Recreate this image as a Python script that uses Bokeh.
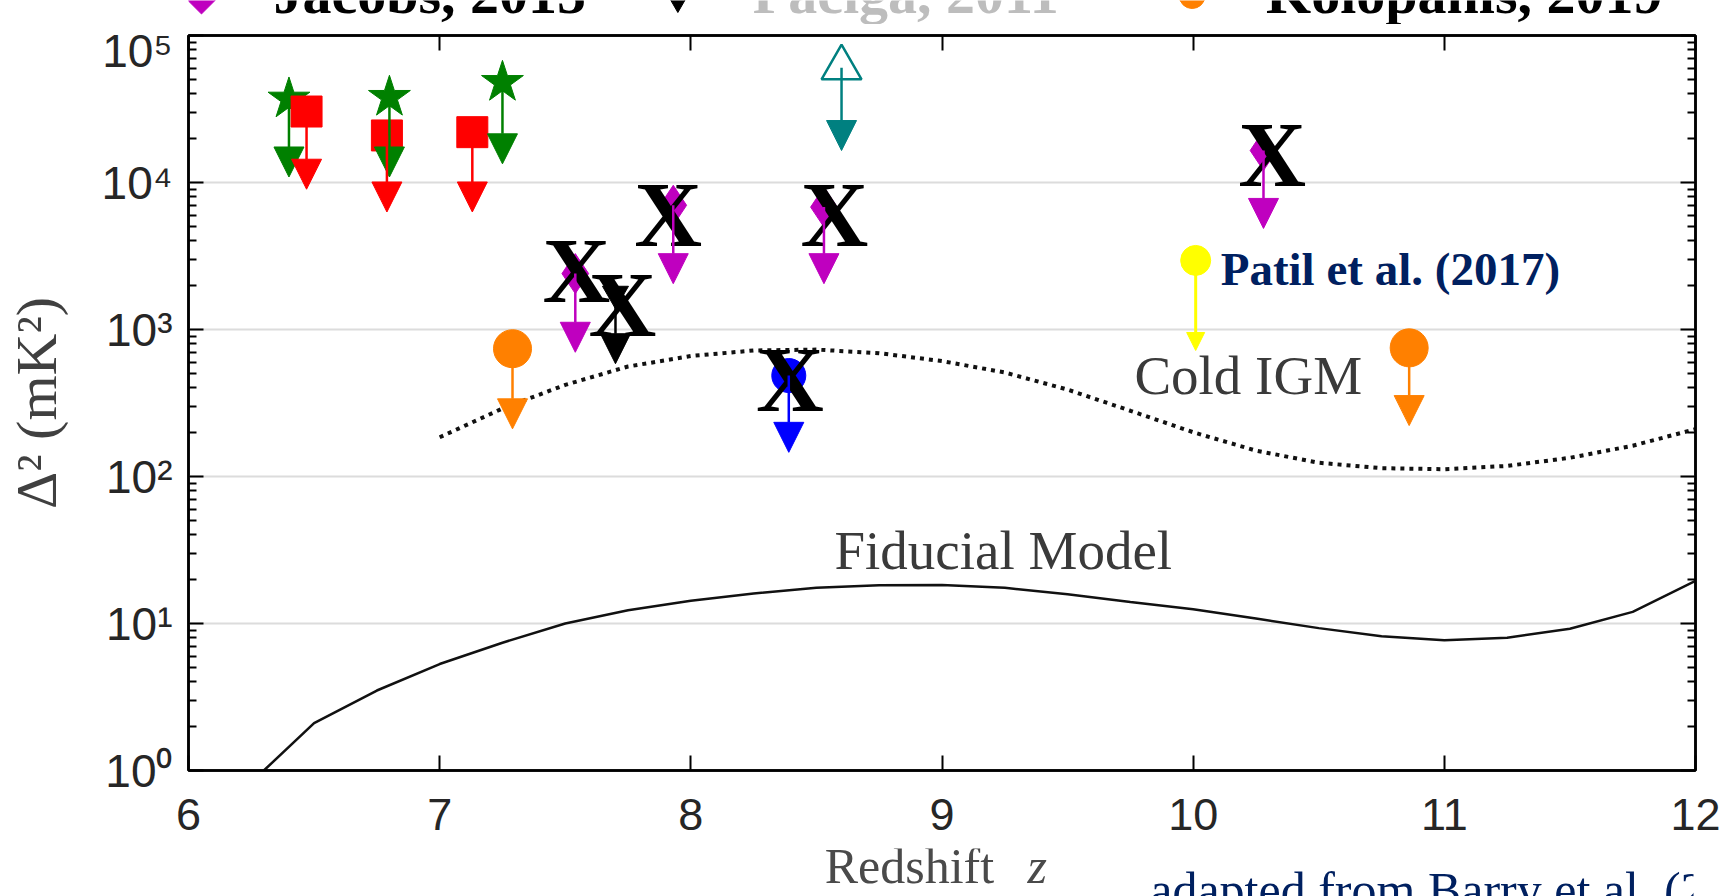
import math
from bokeh.plotting import figure
from bokeh.layouts import column
from bokeh.models import (ColumnDataSource, Arrow, NormalHead, Label, FixedTicker,
                          LogAxis, LinearAxis, CustomJSTickFormatter, Range1d)
from bokeh.core.properties import value
from bokeh.embed import file_html
from bokeh.resources import INLINE

# ---------------- data ----------------
x_ticks = [6, 7, 8, 9, 10, 11, 12]
y_ticks = [1, 10, 100, 1000, 10000, 100000]
y_tick_labels = ["10⁰", "10¹", "10²", "10³", "10⁴", "10⁵"]

fid_z = [6.3, 6.5, 6.75, 7.0, 7.25, 7.5, 7.75, 8.0, 8.25, 8.5, 8.75, 9.0, 9.25,
         9.5, 9.75, 10.0, 10.25, 10.5, 10.75, 11.0, 11.25, 11.5, 11.75, 12.0]
fid_val = [1.0, 2.1, 3.5, 5.3, 7.4, 10.0, 12.3, 14.3, 16.0, 17.5, 18.2, 18.3, 17.5,
           15.8, 14.0, 12.5, 10.8, 9.3, 8.2, 7.7, 8.0, 9.2, 12.0, 19.5]

cold_z = [7.0, 7.25, 7.5, 7.75, 8.0, 8.25, 8.5, 8.75, 9.0, 9.25, 9.5, 9.75, 10.0,
          10.25, 10.5, 10.75, 11.0, 11.25, 11.5, 11.75, 12.0]
cold_val = [185, 290, 420, 560, 660, 720, 730, 690, 610, 510, 390, 280, 200,
            150, 124, 114, 112, 118, 134, 162, 210]

star_z = [6.40, 6.80, 7.25]
star_val = [37000, 38000, 48000]
star_tip = [10900, 10900, 13400]

sq_z = [6.47, 6.79, 7.13]
sq_val = [30400, 20900, 22000]
sq_tip = [9000, 6300, 6300]

jac_z = [7.54, 7.93, 8.53, 10.28]
jac_val = [2400, 7000, 6800, 16500]
jac_tip = [700, 2050, 2050, 4870]

pac_z = [7.70]
pac_val = [1750]
pac_tip = [585]

tri_z = [8.60]
tri_val = [60300]
tri_tip = [16500]

kol_z = [7.29, 10.86]
kol_val = [740, 750]
kol_tip = [211, 222]

blue_z = [8.39]
blue_val = [486]
blue_tip = [146]

patil_z = [10.01]
patil_val = [2950]
patil_tip = [720]

cross_z = [7.545, 7.728, 7.91, 8.572, 8.395, 10.315]
cross_val = [2520, 1500, 6080, 6120, 462, 15700]

legend_labels = ["Jacobs, 2015", "Paciga, 2011", "Kolopanis, 2019"]

GREEN, RED, MAG, TEAL = "#008000", "#ff0000", "#bf00bf", "#008080"
ORANGE, BLUE, YEL = "#ff8000", "#0000ff", "#ffff00"


def strip_fig(h):
    # frames of the strips are aligned with the main frame (page x 186..1693)
    f = figure(width=1732, height=h, x_range=Range1d(186, 1693), y_range=Range1d(h, 0),
               min_border=0, toolbar_location=None, output_backend="svg",
               x_axis_location=None, y_axis_location=None, margin=(0, 0, 0, 0))
    f.outline_line_color = None
    f.xgrid.grid_line_color = None
    f.ygrid.grid_line_color = None
    f.background_fill_color = "white"
    f.border_fill_color = "white"
    return f


# ---------------- legend strip (cut off by the page top) ----------------
top_fig = strip_fig(24)
leg_mark_x = [199, 676, 1191]
leg_mark_y = [-12, -3, -5]
leg_text_x = [271, 751, 1265]
leg_text_colors = ["black", "#bdbdbd", "black"]
top_fig.scatter([leg_mark_x[0]], [leg_mark_y[0]], marker="square", angle=math.pi / 4, size=36,
                fill_color=MAG, line_color=MAG)
top_fig.scatter([leg_mark_x[1]], [leg_mark_y[1]], marker="inverted_triangle", size=26,
                fill_color="black", line_color="black")
top_fig.scatter([leg_mark_x[2]], [leg_mark_y[2]], marker="circle", size=26,
                fill_color=ORANGE, line_color=ORANGE)
top_fig.text(leg_text_x, [-7, -7, -7], text=legend_labels, text_color=leg_text_colors,
             text_font=value("Liberation Serif"), text_font_style="bold",
             text_font_size="58px", text_baseline="middle", text_align="left")

# ---------------- main figure ----------------
p = figure(frame_width=1507, frame_height=735, y_axis_type="log",
           x_range=Range1d(6, 12), y_range=Range1d(1, 1e5),
           output_backend="svg", toolbar_location=None,
           min_border_left=186, min_border_right=39,
           min_border_top=11, min_border_bottom=78, margin=(0, 0, 0, 0))
p.background_fill_color = "white"
p.border_fill_color = "white"
p.outline_line_color = "black"
p.outline_line_width = 2.5

empty = CustomJSTickFormatter(code="return ''")
xt = FixedTicker(ticks=x_ticks)
yt = FixedTicker(ticks=y_ticks,
                 minor_ticks=[m * t for t in y_ticks[:-1] for m in range(2, 10)])

xa = p.xaxis[0]
xa.ticker = xt
xa.major_label_text_font = "Liberation Sans"
xa.major_label_text_font_size = "45px"
xa.major_label_text_color = "#262626"
xa.major_label_standoff = 28
xa.major_tick_in = 15
xa.major_tick_out = 0
xa.minor_tick_line_color = None
xa.axis_line_width = 2.5
xa.major_tick_line_width = 2

ya = p.yaxis[0]
ya.ticker = yt
ya.major_label_overrides = dict(zip(y_ticks, y_tick_labels))
ya.major_label_text_font = "Liberation Sans"
ya.major_label_text_font_size = "46px"
ya.major_label_text_color = "#262626"
ya.major_label_standoff = 16
ya.major_tick_in = 15
ya.major_tick_out = 0
ya.minor_tick_in = 8
ya.minor_tick_out = 0
ya.axis_line_width = 2.5
ya.major_tick_line_width = 2
ya.minor_tick_line_width = 2
ya.axis_label = "Δ² (mK²)"
ya.axis_label_text_font = "Liberation Serif"
ya.axis_label_text_font_style = "normal"
ya.axis_label_text_font_size = "58px"
ya.axis_label_text_color = "#404040"
ya.axis_label_standoff = 30

top = LinearAxis(ticker=xt, formatter=empty, major_tick_in=15, major_tick_out=0,
                 major_label_text_font_size="1px", major_label_standoff=0,
                 minor_tick_line_color=None, axis_line_width=2.5, major_tick_line_width=2)
p.add_layout(top, "above")
right = LogAxis(ticker=yt, formatter=empty, major_tick_in=15, major_tick_out=0,
                major_label_text_font_size="1px", major_label_standoff=0,
                minor_tick_in=8, minor_tick_out=0, axis_line_width=2.5,
                major_tick_line_width=2, minor_tick_line_width=2)
p.add_layout(right, "right")

p.xgrid.grid_line_color = None
p.ygrid.ticker = yt
p.ygrid.grid_line_color = "#dcdcdc"
p.ygrid.grid_line_width = 2

# curves
p.line(fid_z, fid_val, line_color="#111111", line_width=2.5)
p.line(cold_z, cold_val, line_color="#111111", line_width=4, line_dash="4 5")


def arrows(z, v, tip, color, head=30, width=2.5):
    src = ColumnDataSource(dict(x0=z, y0=v, x1=z, y1=tip))
    p.add_layout(Arrow(end=NormalHead(size=head, fill_color=color, line_color=color, line_width=1),
                       source=src, x_start="x0", y_start="y0", x_end="x1", y_end="y1",
                       line_color=color, line_width=width, level="glyph"))


arrows(star_z, star_val, star_tip, GREEN)
arrows(sq_z, sq_val, sq_tip, RED)
arrows(jac_z, jac_val, jac_tip, MAG)
arrows(pac_z, pac_val, pac_tip, "black")
arrows(tri_z, tri_val, tri_tip, TEAL)
arrows(kol_z, kol_val, kol_tip, ORANGE)
arrows(blue_z, blue_val, blue_tip, BLUE)
arrows(patil_z, patil_val, patil_tip, YEL, head=18, width=3)

p.scatter(star_z, star_val, marker="star", size=44, fill_color=GREEN, line_color=GREEN)
p.scatter(sq_z, sq_val, marker="square", size=31, fill_color=RED, line_color=RED)
p.scatter(jac_z, jac_val, marker="diamond", size=40, fill_color=MAG, line_color=MAG)
p.scatter(pac_z, pac_val, marker="inverted_triangle", size=26, fill_color="black", line_color="black")
p.scatter(tri_z, tri_val, marker="triangle", size=40, fill_color=None, line_color=TEAL, line_width=2.5)
p.scatter(kol_z, kol_val, marker="circle", size=38, fill_color=ORANGE, line_color=ORANGE)
p.scatter(blue_z, blue_val, marker="circle", size=34, fill_color=BLUE, line_color=BLUE)
p.scatter(patil_z, patil_val, marker="circle", size=30, fill_color=YEL, line_color=YEL)

p.text(cross_z, cross_val, text=["X"] * len(cross_z), text_font=value("Liberation Serif"),
       text_font_style="bold", text_font_size="94px", text_color="black",
       text_align="center", text_baseline="middle")


def lab(**kw):
    p.add_layout(Label(**kw))


lab(x=patil_z[0], y=patil_val[0], x_offset=25, y_offset=-9, text="Patil et al. (2017)",
    text_font="Liberation Serif", text_font_style="bold", text_font_size="47px",
    text_color="#002060", text_baseline="middle")
lab(x=9.766, y=486, text="Cold IGM", text_font="Liberation Serif", text_font_size="55px",
    text_color="#3a3a3a", text_baseline="middle")
lab(x=8.572, y=31.4, text="Fiducial Model", text_font="Liberation Serif", text_font_size="55px",
    text_color="#3a3a3a", text_baseline="middle")

# ---------------- bottom strip: x-axis title and credit line ----------------
bot_fig = strip_fig(48)
bot_fig.text([823], [17.5], text=["Redshift"], text_font=value("Liberation Serif"),
             text_font_size="50px", text_color="#4a4a4a", text_baseline="middle")
bot_fig.text([1026], [17.5], text=["z"], text_font=value("Liberation Serif"),
             text_font_style="italic", text_font_size="50px", text_color="#4a4a4a",
             text_baseline="middle")
bot_fig.text([1149], [41.5], text=["adapted from Barry et al. (2019)"],
             text_font=value("Liberation Serif"), text_font_size="50px",
             text_color="#002060", text_baseline="middle")

layout = column(top_fig, p, bot_fig, spacing=0, margin=(0, 0, 0, 0))

open("out.html", "w").write(file_html(layout, INLINE))
